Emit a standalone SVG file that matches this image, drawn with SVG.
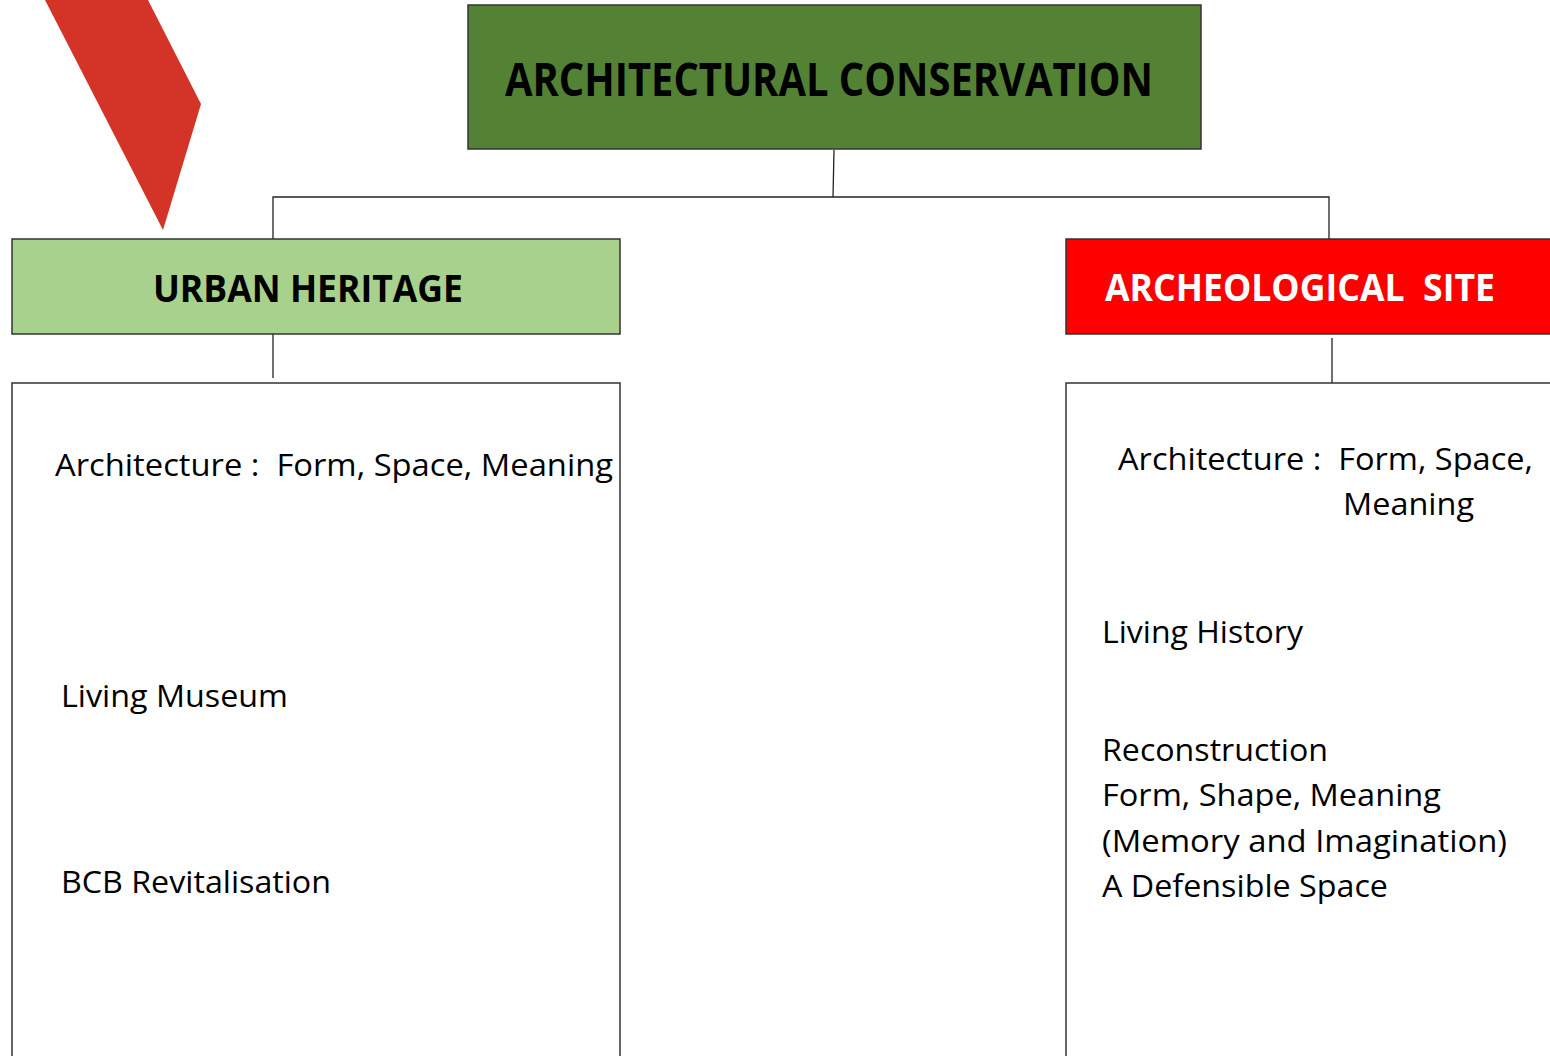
<svg xmlns="http://www.w3.org/2000/svg" width="1550" height="1056" viewBox="0 0 1550 1056">
<style>
.box{stroke:#333;stroke-width:1.5}
.conn{stroke:#222;stroke-width:1.3;fill:none}
.hdr{font-family:"Open Sans","Noto Sans","Liberation Sans",sans-serif;font-weight:bold}
.body{font-family:"Open Sans","Noto Sans","Liberation Sans",sans-serif;font-size:31px;fill:#000}
</style>
<rect width="1550" height="1056" fill="#fff"/>
<polygon id="ribbon" points="45,0 148,0 201,104 163,230" fill="#D43328"/>
<g id="connectors">
<polyline class="conn" points="834,150 833,197"/>
<polyline class="conn" points="273,244 273,197 1329,197 1329,244"/>
<line class="conn" x1="273" y1="331" x2="273" y2="378"/>
<line class="conn" x1="1332" y1="338" x2="1332" y2="385"/>
</g>
<g id="architectural-conservation">
<rect class="box" x="468" y="5" width="733" height="144" fill="#548235"/>
<text class="hdr" x="505" y="96" font-size="46" textLength="648" lengthAdjust="spacingAndGlyphs" fill="#000">ARCHITECTURAL CONSERVATION</text>
</g>
<g id="urban-heritage">
<rect class="box" x="12" y="239" width="608" height="95" fill="#A9D18E"/>
<text class="hdr" x="153" y="302" font-size="37" textLength="310" lengthAdjust="spacingAndGlyphs" fill="#000">URBAN HERITAGE</text>
</g>
<g id="archeological-site">
<rect class="box" x="1066" y="239" width="500" height="95" fill="#FF0000"/>
<text class="hdr" x="1105" y="301" font-size="37" textLength="390" lengthAdjust="spacingAndGlyphs" fill="#fff" xml:space="preserve">ARCHEOLOGICAL  SITE</text>
</g>
<g id="urban-details">
<rect class="box" x="12" y="383" width="608" height="690" fill="#fff"/>
<text class="body" x="55" y="476" textLength="558" lengthAdjust="spacingAndGlyphs" xml:space="preserve">Architecture :  Form, Space, Meaning</text>
<text class="body" x="61" y="707" textLength="227" lengthAdjust="spacingAndGlyphs">Living Museum</text>
<text class="body" x="61" y="893" textLength="270" lengthAdjust="spacingAndGlyphs">BCB Revitalisation</text>
</g>
<g id="archeological-details">
<rect class="box" x="1066" y="383" width="500" height="690" fill="#fff"/>
<text class="body" x="1118" y="470" textLength="415" lengthAdjust="spacingAndGlyphs" xml:space="preserve">Architecture :  Form, Space,</text>
<text class="body" x="1343" y="515" textLength="131" lengthAdjust="spacingAndGlyphs">Meaning</text>
<text class="body" x="1102" y="643" textLength="201" lengthAdjust="spacingAndGlyphs">Living History</text>
<text class="body" x="1102" y="761" textLength="226" lengthAdjust="spacingAndGlyphs">Reconstruction</text>
<text class="body" x="1102" y="806" textLength="339" lengthAdjust="spacingAndGlyphs">Form, Shape, Meaning</text>
<text class="body" x="1102" y="852" textLength="405" lengthAdjust="spacingAndGlyphs">(Memory and Imagination)</text>
<text class="body" x="1102" y="897" textLength="286" lengthAdjust="spacingAndGlyphs">A Defensible Space</text>
</g>
</svg>
